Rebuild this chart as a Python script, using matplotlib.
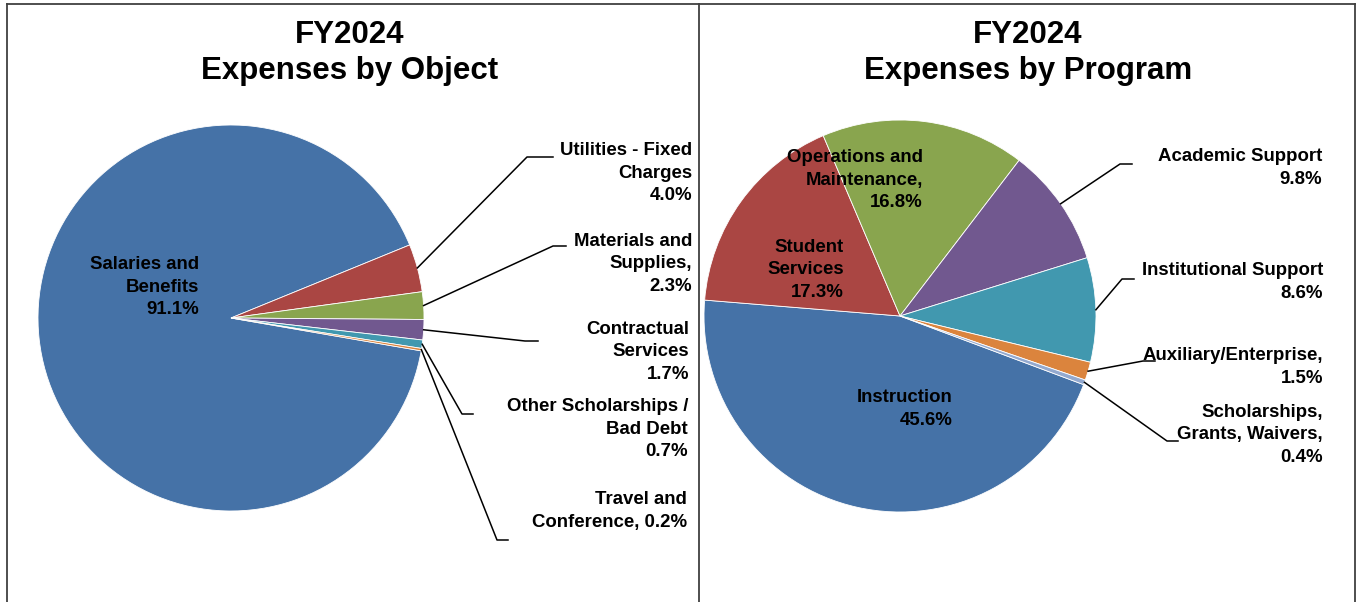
import numpy as np
import matplotlib.pyplot as plt
from matplotlib.lines import Line2D

plt.rcParams['font.family'] = ['Liberation Sans', 'DejaVu Sans']

# data
obj_names = ["Salaries and Benefits", "Utilities - Fixed Charges", "Materials and Supplies",
             "Contractual Services", "Other Scholarships / Bad Debt", "Travel and Conference"]
obj_values = [91.1, 4.0, 2.3, 1.7, 0.7, 0.2]
obj_labels = ["Salaries and\nBenefits\n{:.1f}%", "Utilities - Fixed\nCharges\n{:.1f}%",
              "Materials and\nSupplies,\n{:.1f}%", "Contractual\nServices\n{:.1f}%",
              "Other Scholarships /\nBad Debt\n{:.1f}%", "Travel and\nConference, {:.1f}%"]

prog_names = ["Instruction", "Student Services", "Operations and Maintenance", "Academic Support",
              "Institutional Support", "Auxiliary/Enterprise", "Scholarships, Grants, Waivers"]
prog_values = [45.6, 17.3, 16.8, 9.8, 8.6, 1.5, 0.4]
prog_labels = ["Instruction\n{:.1f}%", "Student\nServices\n{:.1f}%", "Operations and\nMaintenance,\n{:.1f}%",
               "Academic Support\n{:.1f}%", "Institutional Support\n{:.1f}%", "Auxiliary/Enterprise,\n{:.1f}%",
               "Scholarships,\nGrants, Waivers,\n{:.1f}%"]

colors = ["#4572A7", "#AA4643", "#89A54E", "#71588F", "#4198AF", "#DB843D", "#93A9CF"]

W, H = 1361, 602
fig = plt.figure(figsize=(W / 100, H / 100), dpi=100)
ax = fig.add_axes([0, 0, 1, 1])

FS = 13.4
LS = 1.42


def Y(y):
    return H - y


def draw_pie(values, labels, center, radius, start, inside, outside):
    wedges, _ = ax.pie(values, colors=colors[:len(values)], startangle=start, counterclock=False,
                       center=(center[0], Y(center[1])), radius=radius,
                       wedgeprops=dict(edgecolor='white', linewidth=0.6))
    for i, w in enumerate(wedges):
        txt = labels[i].format(values[i])
        if i in inside:
            x, y = inside[i]
            ax.text(x, Y(y + 2), txt, ha='right', va='center', fontsize=FS, fontweight='bold',
                    multialignment='right', linespacing=LS)
        else:
            (ex, ey), (hx, hy), (tx, ty) = outside[i]
            mid = np.deg2rad((w.theta1 + w.theta2) / 2)
            sx = center[0] + radius * np.cos(mid)
            sy = Y(center[1]) + radius * np.sin(mid)
            ax.add_line(Line2D([sx, ex, hx], [sy, Y(ey), Y(hy)], color='black', lw=1.1))
            ax.text(tx, Y(ty + 2), txt, ha='right', va='center', fontsize=FS, fontweight='bold',
                    multialignment='right', linespacing=LS)


draw_pie(obj_values, obj_labels, (231, 318), 193, -9.8,
         inside={0: (199, 285)},
         outside={1: ((527, 157), (553, 157), (692, 171)),
                  2: ((553, 246), (566, 246), (692, 262)),
                  3: ((525, 341), (538, 341), (689, 350)),
                  4: ((462, 414), (473, 414), (688, 427)),
                  5: ((497, 540), (508, 540), (687, 509))})

draw_pie(prog_values, prog_labels, (900, 316), 196, -20.5,
         inside={0: (953, 407), 1: (844, 268), 2: (923, 178)},
         outside={3: ((1120, 164), (1132, 164), (1322, 166)),
                  4: ((1122, 279), (1134, 279), (1323, 280)),
                  5: ((1143, 361), (1155, 361), (1323, 365)),
                  6: ((1167, 441), (1178, 441), (1323, 433))})

# titles
for cx, title in [(350, "Expenses by Object"), (1028, "Expenses by Program")]:
    ax.text(cx, Y(35), "FY2024", ha='center', va='center', fontsize=22.5, fontweight='bold')
    ax.text(cx, Y(71), title, ha='center', va='center', fontsize=22.5, fontweight='bold')

# panel frames
fc = '#404040'
ax.add_line(Line2D([7, 1355], [Y(4), Y(4)], color=fc, lw=1.3))
for x in [7, 699, 1355]:
    ax.add_line(Line2D([x, x], [Y(4), 0], color=fc, lw=1.3))

ax.set_xlim(0, W)
ax.set_ylim(0, H)
ax.set_aspect('auto')
ax.axis('off')
fig.savefig('out.png', dpi=100, facecolor='white')
